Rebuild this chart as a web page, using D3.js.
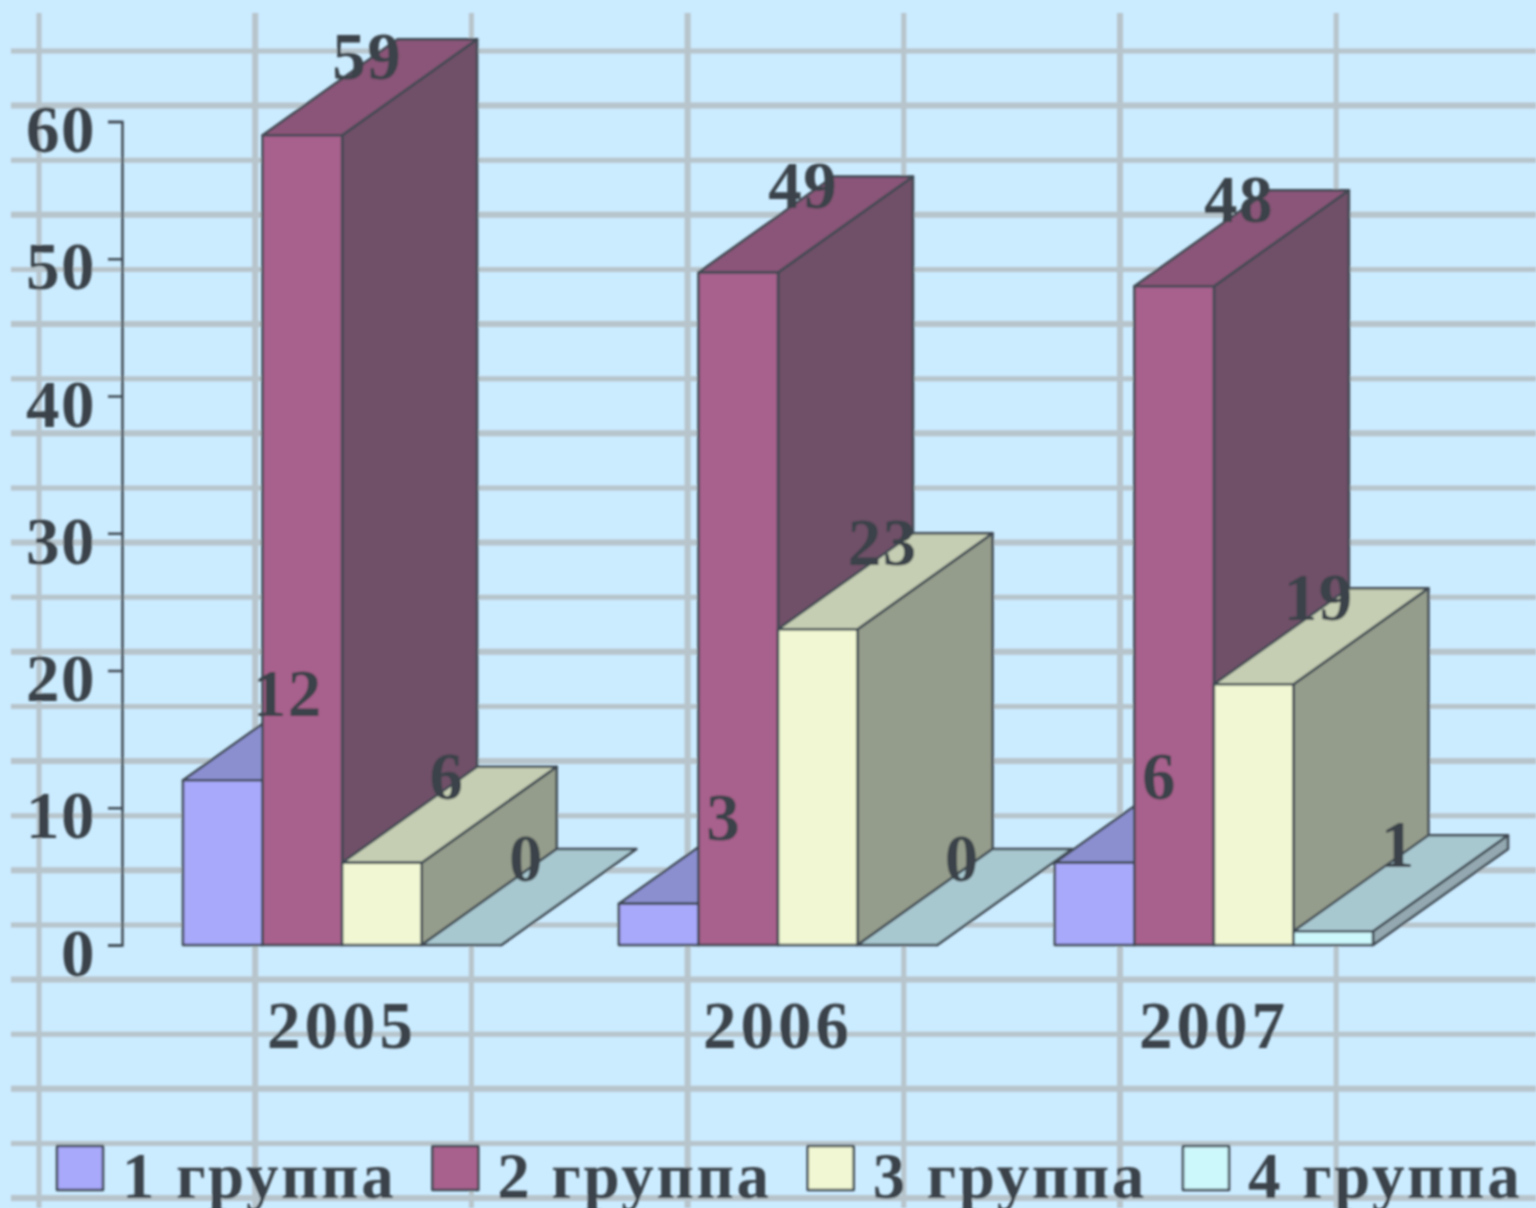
<!DOCTYPE html>
<html>
<head>
<meta charset="utf-8">
<script src="https://cdn.jsdelivr.net/npm/d3@7"></script>
<style>
html, body { margin: 0; padding: 0; background: #cbebff; overflow: hidden; }
svg { display: block; }
text { font-family: "Liberation Serif", serif; font-weight: bold; fill: #3a4349; }
.axis path, .axis line { stroke: #3f4a52; stroke-width: 2.5; fill: none; }
.edge { stroke: #3f4a52; stroke-width: 2.5; stroke-linejoin: round; }
</style>
</head>
<body>
<script>
var years = ["2005", "2006", "2007"];
var groups = ["1 группа", "2 группа", "3 группа", "4 группа"];
var group1 = [12, 3, 6];
var group2 = [59, 49, 48];
var group3 = [6, 23, 19];
var group4 = [0, 0, 1];
var yTicks = [0, 10, 20, 30, 40, 50, 60];
var seriesValues = [group1, group2, group3, group4];

var frontColors = ["#a9a9fb", "#a8608c", "#f0f7d2", "#ccf7fb"];
var topColors = ["#8b8fd0", "#8a5578", "#c5cdb2", "#a8c8d0"];
var sideColors = ["#7d80b8", "#6f5068", "#949c8b", "#93a8b0"];

var width = 1536, height = 1208;
var depthX = 135, depthY = 96;

var svg = d3.select("body").append("svg")
    .attr("width", width)
    .attr("height", height);

var defs = svg.append("defs");
defs.append("filter").attr("id", "soft")
    .append("feGaussianBlur").attr("stdDeviation", 0.8);

var chart = svg.append("g").attr("filter", "url(#soft)");

// the slide background grid
var gridX = d3.range(7).map(function(i) { return 39 + i * 216.2; });
var gridY = d3.range(22).map(function(i) { return 51 + i * 54.62; });

chart.selectAll(".gridx")
    .data(gridX)
  .enter().append("line")
    .attr("x1", function(d) { return d; })
    .attr("x2", function(d) { return d; })
    .attr("y1", 13)
    .attr("y2", height)
    .attr("stroke", "#b7c4cb")
    .attr("stroke-width", function(d, i) { return i % 2 ? 6 : 5; });

chart.selectAll(".gridy")
    .data(gridY)
  .enter().append("line")
    .attr("x1", 11)
    .attr("x2", width)
    .attr("y1", function(d) { return d; })
    .attr("y2", function(d) { return d; })
    .attr("stroke", "#b7c4cb")
    .attr("stroke-width", function(d, i) { return i % 2 ? 6 : 5; });

var x = d3.scaleBand()
    .domain(years)
    .range([183, 1373])
    .paddingInner(0.27)
    .paddingOuter(0);

var xInner = d3.scaleBand()
    .domain(d3.range(groups.length))
    .range([0, x.bandwidth()]);

var y = d3.scaleLinear()
    .domain([0, 60])
    .range([945, 121.5]);

var yAxis = d3.axisLeft(y)
    .tickValues(yTicks)
    .tickSize(14)
    .tickPadding(12);

var yAxisG = chart.append("g")
    .attr("class", "axis")
    .attr("transform", "translate(122,0)")
    .call(yAxis);

yAxisG.selectAll("text")
    .attr("font-size", 67)
    .attr("letter-spacing", 1.5)
    .attr("dy", 30)
    .style("font-family", null);

var xAxis = d3.axisBottom(x)
    .tickSize(0)
    .tickPadding(58);

var xAxisG = chart.append("g")
    .attr("class", "axis")
    .attr("transform", "translate(0,945)")
    .call(xAxis);

xAxisG.select(".domain").remove();
xAxisG.selectAll("text")
    .attr("font-size", 67)
    .attr("letter-spacing", 4)
    .attr("dy", 45)
    .attr("y", 58)
    .style("font-family", null);

function poly(points) {
    return d3.line()(points);
}

// left to right so the next bar covers the hidden faces
var bars = [];
years.forEach(function(year, yi) {
    seriesValues.forEach(function(values, si) {
        bars.push({year: year, si: si, value: values[yi]});
    });
});

var bar = chart.selectAll(".bar")
    .data(bars)
  .enter().append("g")
    .attr("class", "bar");

bar.append("path")
    .attr("class", "edge")
    .attr("fill", function(d) { return sideColors[d.si]; })
    .attr("d", function(d) {
        var r = x(d.year) + xInner(d.si) + xInner.bandwidth(), t = y(d.value), b = y(0);
        return poly([[r, b], [r, t], [r + depthX, t - depthY], [r + depthX, b - depthY]]) + "Z";
    });

bar.append("path")
    .attr("class", "edge")
    .attr("fill", function(d) { return topColors[d.si]; })
    .attr("d", function(d) {
        var l = x(d.year) + xInner(d.si), r = l + xInner.bandwidth(), t = y(d.value);
        return poly([[l, t], [r, t], [r + depthX, t - depthY], [l + depthX, t - depthY]]) + "Z";
    });

bar.append("rect")
    .attr("class", "edge")
    .attr("fill", function(d) { return frontColors[d.si]; })
    .attr("x", function(d) { return x(d.year) + xInner(d.si); })
    .attr("y", function(d) { return y(d.value); })
    .attr("width", xInner.bandwidth())
    .attr("height", function(d) { return y(0) - y(d.value); });

chart.selectAll(".value")
    .data(bars)
  .enter().append("text")
    .attr("class", "value")
    .attr("font-size", 67)
    .attr("letter-spacing", 1.5)
    .attr("text-anchor", "middle")
    .attr("x", function(d) { return x(d.year) + xInner(d.si) + xInner.bandwidth() / 2 + 65; })
    .attr("y", function(d) { return Math.max(y(d.value) - 64, 79); })
    .text(function(d) { return d.value; });

// legend
var legendX = d3.scalePoint()
    .domain(groups)
    .range([57, 1183]);

var legend = chart.selectAll(".legend")
    .data(groups)
  .enter().append("g")
    .attr("class", "legend")
    .attr("transform", function(d) { return "translate(" + legendX(d) + ",1146)"; });

legend.append("rect")
    .attr("class", "edge")
    .attr("width", 46)
    .attr("height", 44)
    .attr("fill", function(d, i) { return frontColors[i]; });

legend.append("text")
    .attr("x", 65)
    .attr("y", 52)
    .attr("font-size", 65)
    .attr("letter-spacing", 2.6)
    .text(function(d) { return d; });
</script>
</body>
</html>
